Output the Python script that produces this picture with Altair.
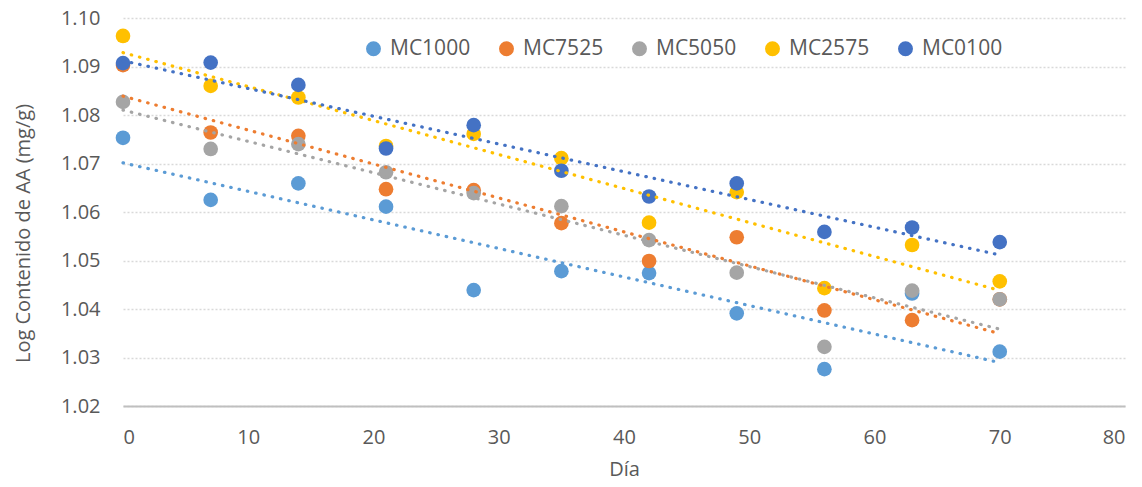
import altair as alt
import pandas as pd

# Sampling days
dias = [0, 7, 14, 21, 28, 35, 42, 49, 56, 63, 70]

# Log ascorbic-acid content per formulation
mc1000 = [1.0753, 1.0625, 1.0659, 1.0611, 1.0439, 1.0478, 1.0474, 1.0391, 1.0276, 1.0432, 1.0312]
mc7525 = [1.0903, 1.0764, 1.0757, 1.0647, 1.0645, 1.0577, 1.0499, 1.0548, 1.0397, 1.0377, 1.0420]
mc5050 = [1.0827, 1.0730, 1.0740, 1.0682, 1.0639, 1.0612, 1.0542, 1.0475, 1.0322, 1.0438, 1.0420]
mc2575 = [1.0963, 1.0860, 1.0836, 1.0736, 1.0761, 1.0711, 1.0578, 1.0641, 1.0443, 1.0532, 1.0457]
mc0100 = [1.0907, 1.0908, 1.0862, 1.0731, 1.0779, 1.0685, 1.0632, 1.0659, 1.0559, 1.0568, 1.0538]

series = ["MC1000", "MC7525", "MC5050", "MC2575", "MC0100"]
colores = ["#5B9BD5", "#ED7D31", "#A5A5A5", "#FFC000", "#4472C4"]
valores = [mc1000, mc7525, mc5050, mc2575, mc0100]

x_ticks = [0, 10, 20, 30, 40, 50, 60, 70, 80]
y_ticks = [1.02, 1.03, 1.04, 1.05, 1.06, 1.07, 1.08, 1.09, 1.10]

rows = []
for nombre, vals in zip(series, valores):
    for d, v in zip(dias, vals):
        rows.append({"serie": nombre, "dia": d, "valor": v})
df = pd.DataFrame(rows)

FONT = "Open Sans"
TXT = "#595959"

color = alt.Color("serie:N", scale=alt.Scale(domain=series, range=colores), sort=series)

x_enc = alt.X(
    "dia:Q",
    scale=alt.Scale(domain=[0, 80], nice=False),
    axis=alt.Axis(
        values=x_ticks, title="Día", grid=False, ticks=False,
        domainColor="#BFBFBF", domainWidth=2, labelPadding=21,
        labelFontSize=20, titleFontSize=20, titlePadding=12,
        labelColor=TXT, titleColor=TXT, labelFont=FONT, titleFont=FONT,
        titleFontWeight="normal",
    ),
)
y_enc = alt.Y(
    "valor:Q",
    scale=alt.Scale(domain=[1.02, 1.10], nice=False, zero=False),
    axis=alt.Axis(
        values=y_ticks, format=".2f", title="Log Contenido de AA (mg/g)",
        domain=False, ticks=False, labelPadding=23,
        gridColor="#D9D9D9", gridDash=[2, 2], gridWidth=1.3,
        labelFontSize=20, titleFontSize=20, labelColor=TXT, titleColor=TXT,
        labelFont=FONT, titleFont=FONT, titleFontWeight="normal",
        titleAngle=-90, titleAlign="center", titleBaseline="middle",
        titleX=-100, titleY=215,
    ),
)

points = alt.Chart(df).mark_circle(size=215, opacity=1).encode(
    x=x_enc,
    y=y_enc,
    color=color.legend(
        title=None, orient="none", direction="horizontal",
        legendX=240, legendY=20, symbolType="circle", symbolSize=180,
        labelFontSize=21, labelFont=FONT, labelColor=TXT,
        labelOffset=6, columnPadding=25, symbolOpacity=1,
    ),
    order=alt.Order("orden:Q"),
).transform_calculate(
    orden="indexof(['MC1000','MC7525','MC5050','MC2575','MC0100'], datum.serie)"
)

lines = alt.Chart(df).transform_regression(
    "dia", "valor", groupby=["serie"], method="linear", extent=[0, 70]
).mark_line(strokeDash=[0.5, 8], strokeWidth=3.2, strokeCap="round").encode(
    x="dia:Q",
    y="valor:Q",
    color=alt.Color("serie:N", scale=alt.Scale(domain=series, range=colores), legend=None),
    detail="serie:N",
)

chart = alt.layer(points, lines).properties(
    width=1002,
    height=388,
    autosize=alt.AutoSizeParams(type="none"),
    padding={"left": 123, "top": 18, "right": 17, "bottom": 81},
    background="white",
).configure_view(stroke=None)

chart.save("out.html", embed_options={"renderer": "svg", "actions": False})
